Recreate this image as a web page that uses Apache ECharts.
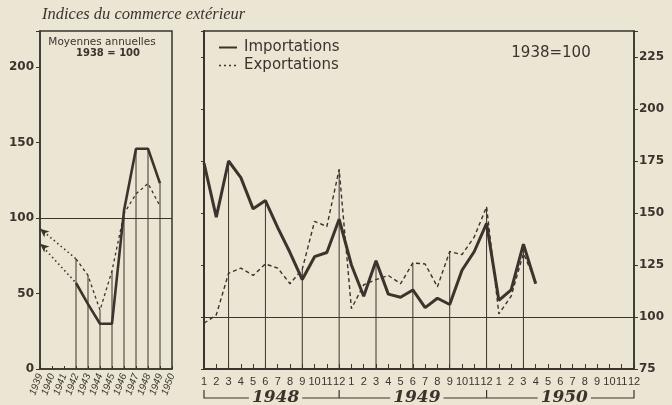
<!DOCTYPE html>
<html><head><meta charset="utf-8">
<script src="https://cdn.jsdelivr.net/npm/echarts@6/dist/echarts.min.js"></script>
<style>html,body{margin:0;padding:0;background:#ebe5d3}#c{width:672px;height:405px}</style>
</head><body><div id="c"></div>
<script>
// ---------- data ----------
const years = ['1939','1940','1941','1942','1943','1944','1945','1946','1947','1948','1949','1950'];
const annualImports = [83, null, null, 57, 43, 30, 30, 105, 146, 146, 123, null];
const annualExports = [93, null, null, 73, 62, 39, 65, 103, 116, 123, 108, null];
const leftTicks = [0, 50, 100, 150, 200];

const months = ['1','2','3','4','5','6','7','8','9','10','11','12',
                '1','2','3','4','5','6','7','8','9','10','11','12',
                '1','2','3','4','5','6','7','8','9','10','11','12'];
const monthlyImports = [174,148,175,167,152,156,143,131,118,129,131,147,
                        125,110,127,111,109.5,113,104.5,109,106,122.5,131.5,145,
                        108,113,135,116,null,null,null,null,null,null,null,null];
const monthlyExports = [97,101,121,123.5,120,125.5,123.5,116,123,146,143.5,171,
                        104,115.5,118,120,116,126,125.5,114.5,131.5,130,138.5,153,
                        101.5,110,130.5,117,null,null,null,null,null,null,null,null];
const quarterMonths = [2,5,8,11,14,17,20,23,26];
const rightTicks = [75, 100, 125, 150, 175, 200, 225];
const yearLabels = ['1948','1949','1950'];

// ---------- styles ----------
const ink = '#3a342d';
const paper = '#ebe5d3';
const sans = "'DejaVu Sans', sans-serif";

// derived
const firstAfterGap = annualImports.findIndex((v, i) => i > 0 && v != null);
const mainImp = annualImports.map((v, i) => i === 0 ? null : v);
const mainExp = annualExports.map((v, i) => i === 0 ? null : v);
const gapImp = annualImports.map((v, i) => (i === 0 || i === firstAfterGap) ? v : null);
const gapExp = annualExports.map((v, i) => (i === 0 || i === firstAfterGap) ? v : null);
const annualDrops = [];
mainImp.forEach((v, i) => { if (v != null && i < years.length - 1) annualDrops.push([i, Math.max(v, mainExp[i])]); });
const monthlyDrops = quarterMonths.map(i => [i, Math.max(monthlyImports[i], monthlyExports[i])]);

function dropRender(yMin) {
  return function (params, api) {
    const top = api.coord([api.value(0), api.value(1)]);
    const bot = api.coord([api.value(0), yMin]);
    return { type: 'line', shape: { x1: top[0], y1: top[1], x2: bot[0], y2: bot[1] },
             style: { stroke: ink, lineWidth: 1 } };
  };
}
const line100 = { silent: true, symbol: 'none', label: { show: false },
  lineStyle: { color: ink, width: 1, type: 'solid' }, data: [{ yAxis: 100 }] };

const chart = echarts.init(document.getElementById('c'), null, { renderer: 'canvas' });
const option = {
  backgroundColor: paper,
  animation: false,
  textStyle: { fontFamily: sans, color: ink },
  grid: [
    { left: 40, top: 31, width: 132, height: 338, show: true, borderColor: ink, borderWidth: 1.5, backgroundColor: 'transparent' },
    { left: 204, top: 31, width: 430, height: 338, show: true, borderColor: ink, borderWidth: 1.5, backgroundColor: 'transparent' }
  ],
  legend: {
    left: 213, top: 35, orient: 'vertical', itemWidth: 18, itemHeight: 12, itemGap: 3,
    itemStyle: { opacity: 0 },
    textStyle: { fontFamily: sans, fontSize: 15, color: ink, padding: [0, 0, 0, 2] },
    data: [{ name: 'Importations' }, { name: 'Exportations', lineStyle: { type: [2, 3], width: 1.5 } }],
    selectedMode: false
  },
  xAxis: [
    { gridIndex: 0, type: 'category', data: years, boundaryGap: false,
      axisLine: { lineStyle: { color: ink, width: 1.5 } },
      axisTick: { inside: true, length: 3, lineStyle: { color: ink } },
      axisLabel: { interval: 0, rotate: 70, fontSize: 10, fontStyle: 'italic', color: ink, margin: 5, fontFamily: "'Liberation Sans', sans-serif" },
      splitLine: { show: false } },
    { gridIndex: 1, type: 'category', data: months, boundaryGap: false,
      axisLine: { lineStyle: { color: ink, width: 2 } },
      axisTick: { inside: true, length: 5, interval: 0, lineStyle: { color: ink } },
      axisLabel: { interval: 0, fontSize: 11, color: ink, margin: 7, fontFamily: "'Liberation Sans', sans-serif" },
      splitLine: { show: false } }
  ],
  yAxis: [
    { gridIndex: 0, type: 'value', min: 0, max: 224, interval: 50, position: 'left',
      axisLine: { show: true, lineStyle: { color: ink, width: 1.5 } },
      axisTick: { show: true, length: 4, lineStyle: { color: ink } },
      axisLabel: { fontSize: 12, fontWeight: 'bold', color: ink, margin: 6,
        formatter: v => leftTicks.includes(v) ? String(v) : '' },
      splitLine: { show: false } },
    { gridIndex: 1, type: 'value', min: 75, max: 237.5, interval: 25, position: 'right',
      axisLine: { show: true, lineStyle: { color: ink, width: 1.5 } },
      axisTick: { show: true, length: 4, lineStyle: { color: ink } },
      axisLabel: { fontSize: 12, fontWeight: 'bold', color: ink, margin: 5,
        formatter: v => rightTicks.includes(v) ? String(v) : '' },
      splitLine: { show: false } },
    { gridIndex: 1, type: 'value', min: 75, max: 237.5, interval: 25, position: 'left',
      axisLine: { show: true, lineStyle: { color: ink, width: 2 } },
      axisTick: { show: true, length: 3, lineStyle: { color: ink } },
      axisLabel: { show: false }, splitLine: { show: false } }
  ],
  series: [
    { type: 'custom', name: 'dropA', xAxisIndex: 0, yAxisIndex: 0, renderItem: dropRender(0),
      encode: { x: 0, y: 1 }, data: annualDrops, z: 1, silent: true },
    { type: 'custom', name: 'dropM', xAxisIndex: 1, yAxisIndex: 1, renderItem: dropRender(75),
      encode: { x: 0, y: 1 }, data: monthlyDrops, z: 1, silent: true },
    { type: 'line', name: 'gapImp', xAxisIndex: 0, yAxisIndex: 0, data: gapImp.map((v, i) => i === 0 ? { value: v, symbol: 'arrow', symbolSize: [6, 9], symbolRotate: 50, itemStyle: { color: ink } } : v),
      connectNulls: true, symbol: 'none', showSymbol: true, lineStyle: { color: ink, width: 1.6, type: [1.5, 3] }, z: 2, silent: true },
    { type: 'line', name: 'gapExp', xAxisIndex: 0, yAxisIndex: 0, data: gapExp.map((v, i) => i === 0 ? { value: v, symbol: 'arrow', symbolSize: [6, 9], symbolRotate: 50, itemStyle: { color: ink } } : v),
      connectNulls: true, symbol: 'none', showSymbol: true, lineStyle: { color: ink, width: 1.6, type: [1.5, 3] }, z: 2, silent: true },
    { type: 'line', name: 'annExp', xAxisIndex: 0, yAxisIndex: 0, data: mainExp, symbol: 'none',
      lineStyle: { color: ink, width: 1.3, type: [3, 3] }, z: 3, silent: true },
    { type: 'line', name: 'annImp', xAxisIndex: 0, yAxisIndex: 0, data: mainImp, symbol: 'none',
      lineStyle: { color: ink, width: 2.6 }, z: 4, silent: true, markLine: line100 },
    { type: 'line', name: 'Exportations', xAxisIndex: 1, yAxisIndex: 1, data: monthlyExports, symbol: 'none',
      itemStyle: { color: ink }, lineStyle: { color: ink, width: 1.4, type: [4, 3] }, z: 3, silent: true },
    { type: 'line', name: 'Importations', xAxisIndex: 1, yAxisIndex: 1, data: monthlyImports, symbol: 'none',
      itemStyle: { color: ink }, lineStyle: { color: ink, width: 3 }, z: 4, silent: true, markLine: line100 }
  ]
};
chart.setOption(option);

// ---------- annotations ----------
const px = (i) => chart.convertToPixel({ gridIndex: 1 }, [i, 75]);
const bY = 398, bTop = 390;
const bounds = [0, 11, 23, 35].map(i => px(i)[0]);
const g = [];
g.push({ type: 'polyline', shape: { points: [[bounds[0], bTop], [bounds[0], bY], [bounds[3], bY], [bounds[3], bTop]] },
  style: { stroke: ink, lineWidth: 1.2, fill: null }, z: 10 });
[1, 2].forEach(k => g.push({ type: 'line', shape: { x1: bounds[k], y1: bTop, x2: bounds[k], y2: bY },
  style: { stroke: ink, lineWidth: 1.2 }, z: 10 }));
yearLabels.forEach((t, k) => {
  g.push({ type: 'text', x: (bounds[k] + bounds[k + 1]) / 2 + 4, y: bY, z: 11,
    style: { text: t, font: "italic bold 17px 'DejaVu Serif', serif", fill: ink,
      align: 'center', verticalAlign: 'middle', backgroundColor: paper, padding: [0, 3] } });
});
g.push({ type: 'text', x: 42, y: 15, z: 11, style: { text: 'Indices du commerce extérieur',
  font: "italic 16.5px 'Liberation Serif', serif", fill: ink, verticalAlign: 'middle' } });
g.push({ type: 'text', x: 102, y: 42, z: 11, style: { text: 'Moyennes annuelles',
  font: "10.5px 'DejaVu Sans', sans-serif", fill: ink, align: 'center', verticalAlign: 'middle' } });
g.push({ type: 'text', x: 108, y: 53, z: 11, style: { text: '1938 = 100',
  font: "bold 10px 'DejaVu Sans', sans-serif", fill: ink, align: 'center', verticalAlign: 'middle' } });
g.push({ type: 'text', x: 551, y: 53, z: 11, style: { text: '1938=100',
  font: "15px 'DejaVu Sans', sans-serif", fill: ink, align: 'center', verticalAlign: 'middle' } });
chart.setOption({ graphic: g });
</script></body></html>
